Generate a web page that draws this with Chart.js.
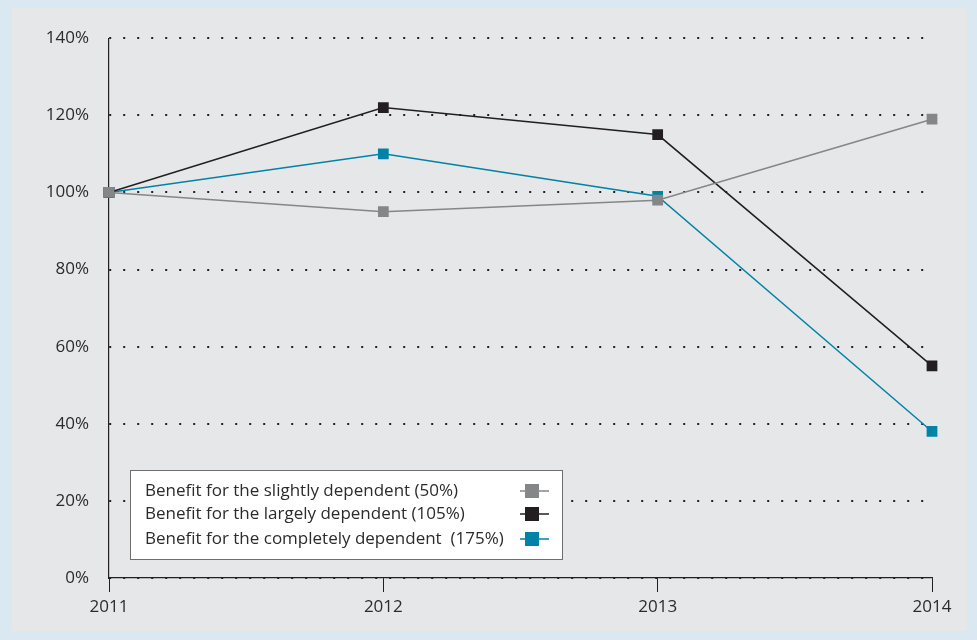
<!DOCTYPE html>
<html>
<head>
<meta charset="utf-8">
<script src="https://cdn.jsdelivr.net/npm/chart.js@4/dist/chart.umd.min.js"></script>
<style>
  html, body { margin: 0; padding: 0; }
  body { width: 977px; height: 640px; background: #d9e8f1; position: relative; overflow: hidden; }
  #panel { position: absolute; left: 12px; top: 8px; width: 955px; height: 623px; background: #e6e7e9; }
  #panel canvas { display: block; }
</style>
</head>
<body>
<div id="panel"><canvas id="benefitChart" width="955" height="623"></canvas></div>
<script>
// -- Data --
const years = ['2011', '2012', '2013', '2014'];
const slightlyDependent = [100, 95, 98, 119];
const largelyDependent = [100, 122, 115, 55];
const completelyDependent = [100, 110, 99, 38];

const seriesLabels = [
    'Benefit for the slightly dependent (50%)',
    'Benefit for the largely dependent (105%)',
    'Benefit for the completely dependent  (175%)'
];
const seriesColors = ['#858688', '#231f20', '#0083a6'];

const FONT = '"Open Sans", "DejaVu Sans", sans-serif';
const TEXT = '#2b2b2b';

function makeSet(label, data, color) {
    return {
        label: label,
        data: data,
        borderColor: color,
        backgroundColor: color,
        borderWidth: 1.5,
        pointStyle: 'rect',
        pointRadius: 7.6,
        pointHoverRadius: 7.6,
        pointBorderWidth: 0,
        pointBackgroundColor: color,
        tension: 0
    };
}

// -- Legend box drawn inside the plot --
const boxLegend = {
    id: 'boxLegend',
    afterDraw(chart) {
        const ctx = chart.ctx;
        const x = 118, y = 462, w = 432, h = 89;
        ctx.save();
        ctx.fillStyle = '#ffffff';
        ctx.fillRect(x, y, w, h);
        ctx.strokeStyle = '#6d6e70';
        ctx.lineWidth = 1;
        ctx.strokeRect(x + 0.5, y + 0.5, w, h);

        ctx.font = '17px ' + FONT;
        ctx.textBaseline = 'middle';
        ctx.textAlign = 'left';
        const rowY = [483, 506, 531];
        chart.data.datasets.forEach((ds, i) => {
            ctx.fillStyle = TEXT;
            ctx.fillText(ds.label, 133, rowY[i]);
            ctx.strokeStyle = ds.borderColor;
            ctx.lineWidth = 1.5;
            ctx.beginPath();
            ctx.moveTo(508, rowY[i]);
            ctx.lineTo(537, rowY[i]);
            ctx.stroke();
            ctx.fillStyle = ds.borderColor;
            ctx.fillRect(513, rowY[i] - 7, 14, 14);
        });
        ctx.restore();
    }
};

const ctx = document.getElementById('benefitChart').getContext('2d');
window.benefitChart = new Chart(ctx, {
    type: 'line',
    data: {
        labels: years,
        datasets: [
            makeSet(seriesLabels[0], slightlyDependent, seriesColors[0]),
            makeSet(seriesLabels[1], largelyDependent, seriesColors[1]),
            makeSet(seriesLabels[2], completelyDependent, seriesColors[2])
        ]
    },
    options: {
        responsive: false,
        animation: false,
        layout: { padding: { left: 0, right: 35, top: 30, bottom: 0 } },
        plugins: {
            legend: { display: false },
            tooltip: { enabled: false }
        },
        scales: {
            x: {
                offset: false,
                afterFit(scale) { scale.height = 53; },
                grid: {
                    drawOnChartArea: false,
                    drawTicks: true,
                    tickLength: 14,
                    color: '#231f20',
                    lineWidth: 1
                },
                border: { display: true, color: '#231f20', width: 1.2 },
                ticks: { color: TEXT, font: { family: FONT, size: 17 }, padding: 5, maxRotation: 0 }
            },
            y: {
                min: 0,
                max: 140,
                afterFit(scale) { scale.width = 97; },
                grid: {
                    drawTicks: false,
                    color: '#231f20',
                    lineWidth: 2
                },
                // dotted horizontal gridlines
                border: { display: true, color: '#231f20', width: 1.2, dash: [2, 12] },
                ticks: {
                    stepSize: 20,
                    color: TEXT,
                    padding: 20,
                    font: { family: FONT, size: 17 },
                    callback: v => v + '%'
                }
            }
        }
    },
    plugins: [boxLegend]
});
</script>
</body>
</html>
